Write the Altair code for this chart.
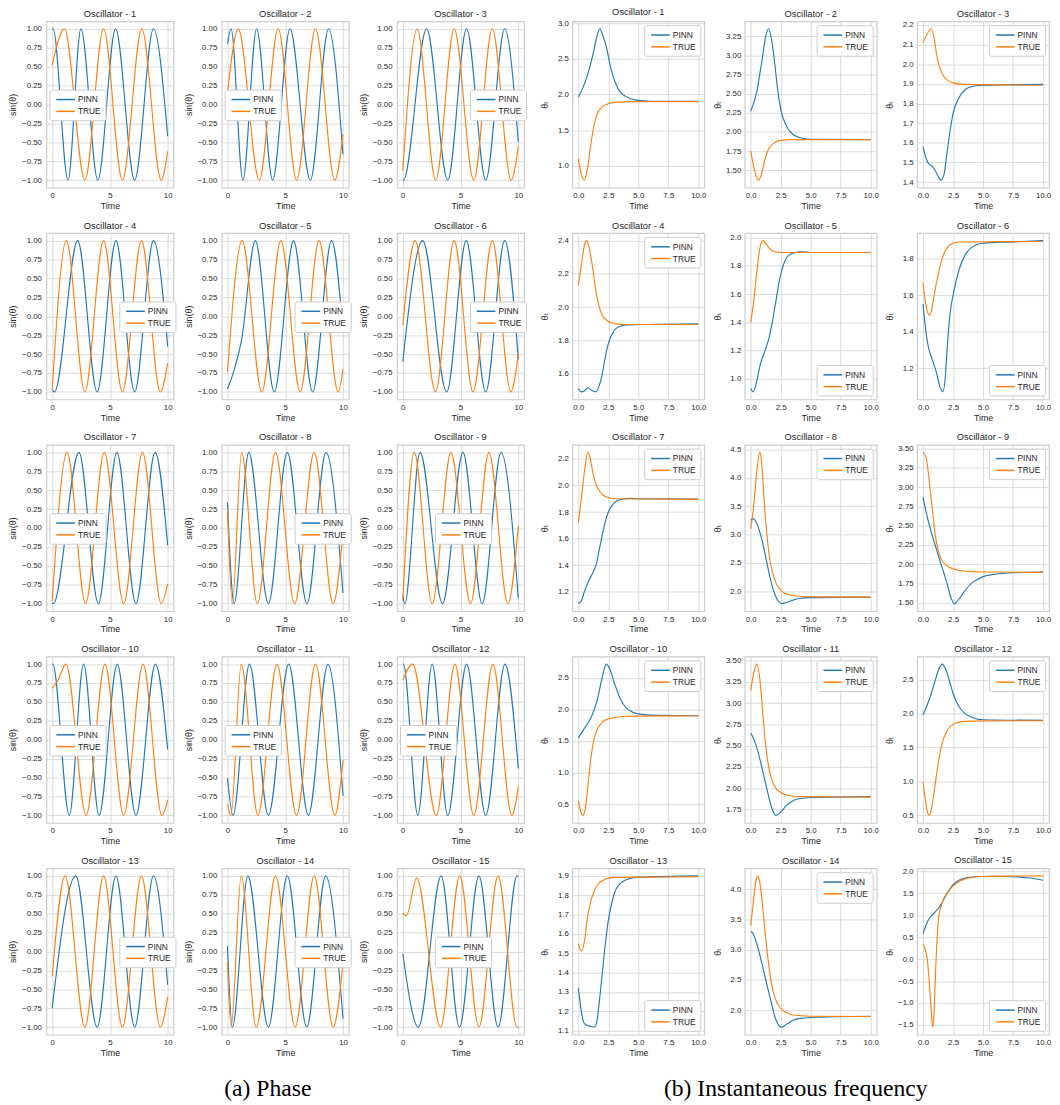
import altair as alt
import pandas as pd

# ---------------- Phase panels: (time, sin(theta)) key points ----------------
phase_pinn_1 = [(0, 0.99), (0.08, 1.0), (1.37, -1.0), (2.49, 1.0), (3.95, -1.0), (5.49, 1.0), (7.14, -1.0), (8.77, 1.0), (10, -0.42)]
phase_true_1 = [(0, 0.52), (1.06, 1.0), (2.83, -1.0), (4.45, 1.0), (6.08, -1.0), (7.76, 1.0), (9.44, -1.0), (10, -0.62)]
phase_pinn_2 = [(0, 0.8), (0.31, 1.0), (1.33, -1.0), (2.52, 1.0), (3.91, -1.0), (5.41, 1.0), (7.17, -1.0), (8.75, 1.0), (10, -0.66)]
phase_true_2 = [(0, 0.15), (0.93, 1.0), (2.75, -1.0), (4.39, 1.0), (5.98, -1.0), (7.62, 1.0), (9.29, -1.0), (10, -0.39)]
phase_pinn_3 = [(0, -0.995), (0.05, -1.0), (2.06, 1.0), (3.89, -1.0), (5.52, 1.0), (7.18, -1.0), (8.82, 1.0), (10, -0.5)]
phase_true_3 = [(0, -0.88), (1.24, 1.0), (2.85, -1.0), (4.45, 1.0), (6.14, -1.0), (7.75, 1.0), (9.38, -1.0), (10, -0.55)]
phase_pinn_4 = [(0, -0.98), (0.2, -1.0), (2.21, 1.0), (3.89, -1.0), (5.52, 1.0), (7.14, -1.0), (8.77, 1.0), (10, -0.4)]
phase_true_4 = [(0, -0.97), (1.23, 1.0), (2.83, -1.0), (4.45, 1.0), (6.08, -1.0), (7.73, 1.0), (9.36, -1.0), (10, -0.62)]
phase_pinn_5 = [(0, -0.96), (0.6, -0.7), (1.2, -0.33), (2.41, 1.0), (4.05, -1.0), (5.72, 1.0), (7.37, -1.0), (9.01, 1.0), (10, -0.19)]
phase_true_5 = [(0, -0.74), (1.27, 1.0), (2.97, -1.0), (4.62, 1.0), (6.29, -1.0), (7.93, 1.0), (9.58, -1.0), (10, -0.7)]
phase_pinn_6 = [(0, -0.6), (1.72, 1.0), (3.8, -1.0), (5.49, 1.0), (7.18, -1.0), (8.82, 1.0), (10, -0.57)]
phase_true_6 = [(0, -0.12), (1.07, 1.0), (2.82, -1.0), (4.45, 1.0), (6.08, -1.0), (7.75, 1.0), (9.35, -1.0), (10, -0.5)]
phase_pinn_7 = [(0, -0.995), (0.1, -1.0), (2.32, 1.0), (4.0, -1.0), (5.6, 1.0), (7.25, -1.0), (8.91, 1.0), (10, -0.23)]
phase_true_7 = [(0, -0.97), (1.29, 1.0), (2.89, -1.0), (4.51, 1.0), (6.19, -1.0), (7.82, 1.0), (9.44, -1.0), (10, -0.74)]
phase_pinn_8 = [(0, 0.34), (0.57, -1.0), (1.84, 1.0), (3.54, -1.0), (5.18, 1.0), (6.88, -1.0), (8.53, 1.0), (10, -0.86)]
phase_true_8 = [(0, 0.25), (0.42, -1.0), (1.22, 1.0), (2.58, -1.0), (4.16, 1.0), (5.81, -1.0), (7.51, 1.0), (9.15, -1.0), (10, -0.05)]
phase_pinn_9 = [(0, -0.89), (0.17, -1.0), (1.49, 1.0), (3.44, -1.0), (5.21, 1.0), (6.87, -1.0), (8.51, 1.0), (10, -0.93)]
phase_true_9 = [(0, -0.96), (0.99, 1.0), (2.54, -1.0), (4.17, 1.0), (5.86, -1.0), (7.46, 1.0), (9.1, -1.0), (10, 0.03)]
phase_pinn_10 = [(0, 0.995), (0.05, 1.0), (1.48, -1.0), (2.72, 1.0), (4.06, -1.0), (5.63, 1.0), (7.25, -1.0), (8.94, 1.0), (10, -0.13)]
phase_true_10 = [(0, 0.68), (0.45, 0.77), (1.2, 1.0), (2.94, -1.0), (4.57, 1.0), (6.19, -1.0), (7.87, 1.0), (9.5, -1.0), (10, -0.8)]
phase_pinn_11 = [(0, -0.51), (0.48, -1.0), (1.9, 1.0), (3.54, -1.0), (5.3, 1.0), (7.0, -1.0), (8.7, 1.0), (10, -0.74)]
phase_true_11 = [(0, -0.85), (0.3, -1.0), (1.19, 1.0), (2.63, -1.0), (4.28, 1.0), (5.98, -1.0), (7.62, 1.0), (9.29, -1.0), (10, -0.27)]
phase_pinn_12 = [(0, 0.995), (0.05, 1.0), (1.3, -1.0), (2.54, 1.0), (3.89, -1.0), (5.52, 1.0), (7.18, -1.0), (8.85, 1.0), (10, -0.38)]
phase_true_12 = [(0, 0.79), (0.85, 1.0), (2.9, -1.0), (4.51, 1.0), (6.14, -1.0), (7.8, 1.0), (9.44, -1.0), (10, -0.62)]
phase_pinn_13 = [(0, -0.75), (2.04, 1.0), (3.89, -1.0), (5.52, 1.0), (7.14, -1.0), (8.77, 1.0), (10, -0.44)]
phase_true_13 = [(0, -0.33), (1.12, 1.0), (2.83, -1.0), (4.45, 1.0), (6.08, -1.0), (7.73, 1.0), (9.36, -1.0), (10, -0.6)]
phase_pinn_14 = [(0, 0.07), (0.42, -1.0), (1.76, 1.0), (3.54, -1.0), (5.18, 1.0), (6.86, -1.0), (8.5, 1.0), (10, -0.89)]
phase_true_14 = [(0, -0.14), (0.31, -1.0), (1.19, 1.0), (2.49, -1.0), (4.16, 1.0), (5.86, -1.0), (7.51, 1.0), (9.15, -1.0), (10, -0.15)]
phase_pinn_15 = [(0, -0.03), (1.35, -1.0), (3.32, 1.0), (4.9, -1.0), (6.59, 1.0), (8.25, -1.0), (9.89, 1.0), (10, 0.995)]
phase_true_15 = [(0, 0.51), (0.3, 0.47), (1.2, 0.97), (3.27, -1.0), (4.93, 1.0), (6.59, -1.0), (8.25, 1.0), (9.89, -1.0), (10, -0.995)]

# ---------------- Instantaneous frequency panels: (time, theta_t) points ----------------
freq_pinn_1 = [(0, 1.96), (0.68, 2.23), (1.23, 2.57), (1.5, 2.78), (1.78, 2.92), (2.05, 2.82), (2.33, 2.67), (2.6, 2.45), (2.88, 2.26), (3.15, 2.14), (3.42, 2.05), (3.97, 1.97), (4.8, 1.92), (6, 1.905), (10, 1.905)]
freq_true_1 = [(0, 1.1), (0.25, 0.88), (0.5, 0.8), (0.75, 0.95), (1.0, 1.25), (1.25, 1.52), (1.5, 1.7), (2.0, 1.83), (2.5, 1.87), (3.0, 1.89), (5, 1.9), (10, 1.9)]
freq_pinn_2 = [(0, 2.27), (0.25, 2.38), (0.5, 2.52), (0.75, 2.75), (1.0, 3.0), (1.25, 3.25), (1.5, 3.35), (1.75, 3.2), (2.0, 2.9), (2.25, 2.55), (2.5, 2.3), (3.0, 2.07), (3.5, 1.97), (4.0, 1.93), (5, 1.905), (10, 1.9)]
freq_true_2 = [(0, 1.75), (0.25, 1.55), (0.5, 1.4), (0.65, 1.37), (0.9, 1.45), (1.2, 1.65), (1.5, 1.78), (2.0, 1.86), (2.5, 1.89), (3.5, 1.9), (10, 1.9)]
freq_pinn_3 = [(0, 1.58), (0.25, 1.52), (0.4, 1.5), (0.75, 1.48), (1.0, 1.46), (1.25, 1.43), (1.5, 1.41), (1.75, 1.44), (2.0, 1.55), (2.25, 1.66), (2.5, 1.75), (3.0, 1.83), (3.5, 1.87), (4.0, 1.885), (5, 1.893), (10, 1.897)]
freq_true_3 = [(0, 2.11), (0.3, 2.15), (0.68, 2.18), (0.9, 2.14), (1.1, 2.06), (1.3, 2.0), (1.6, 1.95), (2.0, 1.92), (2.5, 1.905), (3.5, 1.897), (10, 1.893)]
freq_pinn_4 = [(0, 1.51), (0.25, 1.49), (0.5, 1.495), (0.8, 1.515), (1.1, 1.5), (1.45, 1.49), (1.7, 1.52), (2.0, 1.6), (2.25, 1.7), (2.5, 1.78), (3.0, 1.86), (3.5, 1.885), (4.0, 1.893), (5, 1.895), (10, 1.9)]
freq_true_4 = [(0, 2.13), (0.25, 2.25), (0.5, 2.37), (0.7, 2.4), (0.9, 2.36), (1.1, 2.28), (1.3, 2.18), (1.5, 2.08), (1.75, 2.0), (2.0, 1.95), (2.5, 1.915), (3.0, 1.9), (4, 1.895), (10, 1.895)]
freq_pinn_5 = [(0, 0.93), (0.2, 0.905), (0.5, 0.98), (0.8, 1.1), (1.2, 1.2), (1.5, 1.28), (1.8, 1.4), (2.1, 1.55), (2.4, 1.7), (2.7, 1.8), (3.0, 1.86), (3.5, 1.89), (4.25, 1.9), (5, 1.895), (10, 1.895)]
freq_true_5 = [(0, 1.4), (0.25, 1.55), (0.5, 1.75), (0.75, 1.92), (1.0, 1.98), (1.25, 1.96), (1.5, 1.93), (2.0, 1.9), (2.5, 1.895), (10, 1.895)]
freq_pinn_6 = [(0, 1.55), (0.2, 1.42), (0.4, 1.33), (0.75, 1.25), (1.1, 1.18), (1.4, 1.1), (1.65, 1.07), (1.85, 1.15), (2.0, 1.3), (2.25, 1.5), (2.5, 1.6), (3.0, 1.74), (3.5, 1.82), (4.0, 1.86), (5, 1.885), (7.5, 1.893), (10, 1.9)]
freq_true_6 = [(0, 1.67), (0.2, 1.56), (0.55, 1.49), (0.8, 1.55), (1.0, 1.63), (1.25, 1.71), (1.5, 1.78), (1.75, 1.83), (2.0, 1.86), (2.5, 1.885), (3.0, 1.892), (10, 1.895)]
freq_pinn_7 = [(0, 1.11), (0.25, 1.13), (0.5, 1.2), (0.9, 1.29), (1.25, 1.35), (1.5, 1.41), (1.75, 1.52), (2.0, 1.63), (2.25, 1.73), (2.5, 1.8), (3.0, 1.87), (3.5, 1.895), (4.25, 1.903), (5, 1.9), (10, 1.897)]
freq_true_7 = [(0, 1.72), (0.25, 1.9), (0.5, 2.1), (0.8, 2.25), (1.0, 2.2), (1.25, 2.08), (1.5, 2.0), (1.75, 1.96), (2.0, 1.93), (2.5, 1.91), (3.0, 1.9), (10, 1.895)]
freq_pinn_8 = [(0, 3.25), (0.2, 3.28), (0.5, 3.2), (0.75, 3.05), (1.0, 2.85), (1.25, 2.6), (1.5, 2.35), (1.75, 2.12), (2.0, 1.95), (2.25, 1.84), (2.6, 1.78), (3.0, 1.8), (3.5, 1.84), (4.0, 1.87), (5, 1.885), (10, 1.895)]
freq_true_8 = [(0, 3.1), (0.25, 3.5), (0.5, 4.1), (0.75, 4.45), (0.9, 4.3), (1.0, 4.0), (1.15, 3.5), (1.35, 3.0), (1.6, 2.55), (2.0, 2.2), (2.5, 2.02), (3.0, 1.95), (4.0, 1.91), (5, 1.9), (10, 1.895)]
freq_pinn_9 = [(0, 2.87), (0.25, 2.68), (0.5, 2.52), (0.75, 2.38), (1.0, 2.25), (1.5, 2.0), (2.0, 1.75), (2.3, 1.58), (2.6, 1.49), (3.0, 1.55), (3.5, 1.66), (4.0, 1.75), (4.5, 1.8), (5.0, 1.84), (6.0, 1.87), (7.5, 1.89), (10, 1.9)]
freq_true_9 = [(0, 3.45), (0.15, 3.42), (0.3, 3.35), (0.5, 3.1), (0.75, 2.75), (1.0, 2.4), (1.25, 2.18), (1.5, 2.07), (2.0, 1.98), (2.5, 1.94), (3.0, 1.92), (4.0, 1.905), (5, 1.9), (10, 1.895)]
freq_pinn_10 = [(0, 1.55), (0.5, 1.7), (1.0, 1.85), (1.5, 2.1), (1.75, 2.3), (2.0, 2.52), (2.33, 2.72), (2.6, 2.65), (3.0, 2.42), (3.5, 2.17), (4.0, 2.02), (4.5, 1.96), (5, 1.93), (6, 1.91), (10, 1.9)]
freq_true_10 = [(0, 0.55), (0.2, 0.38), (0.4, 0.32), (0.6, 0.45), (0.8, 0.8), (1.0, 1.15), (1.25, 1.48), (1.5, 1.65), (2.0, 1.8), (2.5, 1.85), (3.0, 1.875), (4.0, 1.89), (5, 1.895), (10, 1.9)]
freq_pinn_11 = [(0, 2.65), (0.25, 2.58), (0.5, 2.48), (0.75, 2.35), (1.0, 2.2), (1.25, 2.05), (1.5, 1.9), (1.75, 1.77), (2.1, 1.68), (2.5, 1.72), (3.0, 1.8), (3.5, 1.85), (4.0, 1.875), (5, 1.89), (10, 1.9)]
freq_true_11 = [(0, 3.15), (0.25, 3.35), (0.5, 3.46), (0.75, 3.3), (1.0, 2.9), (1.25, 2.5), (1.5, 2.25), (1.75, 2.1), (2.0, 2.02), (2.5, 1.95), (3.0, 1.92), (4.0, 1.9), (10, 1.895)]
freq_pinn_12 = [(0, 1.98), (0.5, 2.2), (1.0, 2.48), (1.3, 2.65), (1.6, 2.73), (1.9, 2.65), (2.25, 2.45), (2.5, 2.3), (3.0, 2.1), (3.5, 2.0), (4.0, 1.95), (5, 1.91), (10, 1.9)]
freq_true_12 = [(0, 1.0), (0.2, 0.72), (0.4, 0.53), (0.55, 0.5), (0.75, 0.65), (1.0, 0.95), (1.25, 1.25), (1.5, 1.5), (2.0, 1.75), (2.5, 1.84), (3.0, 1.875), (4, 1.89), (10, 1.895)]
freq_pinn_13 = [(0, 1.32), (0.2, 1.22), (0.4, 1.15), (0.6, 1.13), (1.0, 1.122), (1.35, 1.118), (1.55, 1.15), (1.75, 1.25), (2.0, 1.4), (2.25, 1.55), (2.5, 1.67), (2.75, 1.75), (3.0, 1.81), (3.5, 1.86), (4.0, 1.88), (5, 1.893), (10, 1.9)]
freq_true_13 = [(0, 1.55), (0.15, 1.52), (0.3, 1.512), (0.5, 1.56), (0.75, 1.68), (1.0, 1.76), (1.25, 1.81), (1.5, 1.845), (2.0, 1.875), (2.5, 1.887), (3.0, 1.892), (10, 1.895)]
freq_pinn_14 = [(0, 3.3), (0.15, 3.28), (0.5, 3.1), (0.75, 2.92), (1.0, 2.72), (1.25, 2.5), (1.5, 2.3), (1.75, 2.1), (2.0, 1.9), (2.25, 1.78), (2.55, 1.72), (3.0, 1.77), (3.5, 1.83), (4.0, 1.86), (5, 1.88), (10, 1.9)]
freq_true_14 = [(0, 3.4), (0.2, 3.75), (0.4, 4.1), (0.6, 4.22), (0.75, 4.12), (0.9, 3.9), (1.1, 3.5), (1.3, 3.1), (1.5, 2.75), (1.75, 2.42), (2.0, 2.22), (2.5, 2.03), (3.0, 1.96), (3.5, 1.92), (5, 1.9), (10, 1.895)]
freq_pinn_15 = [(0, 0.58), (0.25, 0.78), (0.5, 0.92), (0.75, 1.0), (1.0, 1.07), (1.25, 1.15), (1.5, 1.25), (1.75, 1.38), (2.0, 1.5), (2.5, 1.7), (3.0, 1.8), (3.5, 1.85), (4.0, 1.87), (5, 1.885), (6, 1.89), (7.5, 1.88), (8.5, 1.86), (9.25, 1.84), (10, 1.8)]
freq_true_15 = [(0, 0.35), (0.2, 0.2), (0.35, 0.0), (0.5, -0.45), (0.65, -1.05), (0.8, -1.55), (0.9, -1.3), (1.0, -0.6), (1.1, 0.1), (1.2, 0.6), (1.3, 0.95), (1.5, 1.2), (1.75, 1.4), (2.0, 1.5), (2.5, 1.67), (3.0, 1.77), (3.5, 1.83), (4.0, 1.86), (5, 1.885), (7.5, 1.895), (10, 1.9)]

# ---------------- Tick labels ----------------
x_phase_ticks = [0, 5, 10]
x_freq_ticks = [0, 2.5, 5, 7.5, 10]
y_phase_ticks = [-1.0, -0.75, -0.5, -0.25, 0.0, 0.25, 0.5, 0.75, 1.0]
freq_ticks_1 = [1.0, 1.5, 2.0, 2.5, 3.0]
freq_ticks_2 = [1.5, 1.75, 2.0, 2.25, 2.5, 2.75, 3.0, 3.25]
freq_ticks_3 = [1.4, 1.5, 1.6, 1.7, 1.8, 1.9, 2.0, 2.1, 2.2]
freq_ticks_4 = [1.6, 1.8, 2.0, 2.2, 2.4]
freq_ticks_5 = [1.0, 1.2, 1.4, 1.6, 1.8, 2.0]
freq_ticks_6 = [1.2, 1.4, 1.6, 1.8]
freq_ticks_7 = [1.2, 1.4, 1.6, 1.8, 2.0, 2.2]
freq_ticks_8 = [2.0, 2.5, 3.0, 3.5, 4.0, 4.5]
freq_ticks_9 = [1.5, 1.75, 2.0, 2.25, 2.5, 2.75, 3.0, 3.25, 3.5]
freq_ticks_10 = [0.5, 1.0, 1.5, 2.0, 2.5]
freq_ticks_11 = [1.75, 2.0, 2.25, 2.5, 2.75, 3.0, 3.25, 3.5]
freq_ticks_12 = [0.5, 1.0, 1.5, 2.0, 2.5]
freq_ticks_13 = [1.1, 1.2, 1.3, 1.4, 1.5, 1.6, 1.7, 1.8, 1.9]
freq_ticks_14 = [2.0, 2.5, 3.0, 3.5, 4.0]
freq_ticks_15 = [-1.5, -1.0, -0.5, 0.0, 0.5, 1.0, 1.5, 2.0]
freq_formats = [".1f", ".2f", ".1f", ".1f", ".1f", ".1f", ".1f", ".1f", ".2f", ".1f", ".2f", ".1f", ".1f", ".1f", ".1f"]

series_names = ["PINN", "TRUE"]
series_colors = ["#1f77b4", "#ff7f0e"]

# legend placement (layout, not data)
phase_legend_pos = ["left", "left", "right", "right", "right", "right", "left", "right", "center",
                    "left", "left", "left", "right", "right", "center"]
freq_legend_pos = ["top-right", "top-right", "top-right", "top-right", "bottom-right", "bottom-right",
                   "top-right", "top-right", "top-right", "top-right", "top-right", "top-right",
                   "bottom-right", "top-right", "bottom-right"]

g = globals()
phase_data = [(g[f"phase_pinn_{i}"], g[f"phase_true_{i}"]) for i in range(1, 16)]
freq_data = [(g[f"freq_pinn_{i}"], g[f"freq_true_{i}"]) for i in range(1, 16)]
freq_ticks = [g[f"freq_ticks_{i}"] for i in range(1, 16)]

FONT = "Liberation Sans, Arial, DejaVu Sans"
TEXT = "#262626"
GRID = "#d6d6d6"
PW, PH = 129, 169   # phase panel plot area
FW, FH = 134, 169   # frequency panel plot area
LEG_W, LEG_H = 52, 30


def to_frame(pinn, true):
    return pd.DataFrame({
        "t": [p[0] for p in pinn] + [p[0] for p in true],
        "v": [p[1] for p in pinn] + [p[1] for p in true],
        "s": ["PINN"] * len(pinn) + ["TRUE"] * len(true),
    })


LEGEND_COMMON = dict(
    title=None, labelFont=FONT, labelFontSize=8.5, labelColor=TEXT,
    symbolType="M-0.6,0H3.2", symbolSize=100, symbolStrokeWidth=1.5,
    labelOffset=13, padding=4, rowPadding=1,
    fillColor="white", strokeColor="#cccccc", cornerRadius=2,
)


def make_panel(df, idx, kind, legend, ydom, yticks, yfmt):
    if kind == "phase":
        xt, xf, w, h, ytitle, ext, lp = x_phase_ticks, "d", PW, PH, "sin(θ)", 26, 5
    else:
        xt, xf, w, h, ytitle, ext, lp = x_freq_ticks, ".1f", FW, FH, "θₜ", 20, 4
    x_axis = alt.Axis(values=xt, format=xf, title="Time", labelPadding=4, titlePadding=2,
                      labelFlush=False, labelOverlap=False)
    y_axis = alt.Axis(values=yticks, format=yfmt, title=ytitle, labelPadding=lp, titlePadding=3,
                      minExtent=ext, maxExtent=ext, labelOverlap=False)
    return alt.Chart(df).mark_line(interpolate="monotone", strokeWidth=1.15, clip=True).encode(
        x=alt.X("t:Q", scale=alt.Scale(domain=[-0.5, 10.5], nice=False, zero=False), axis=x_axis),
        y=alt.Y("v:Q", scale=alt.Scale(domain=ydom, nice=False, zero=False), axis=y_axis),
        color=alt.Color("s:N", scale=alt.Scale(domain=series_names, range=series_colors), legend=legend),
    ).properties(width=w, height=h, title=f"Oscillator - {idx}")


phase_panels = []
for i, (pinn, true) in enumerate(phase_data):
    pos = phase_legend_pos[i]
    lx = {"left": 3, "right": PW - 3 - LEG_W, "center": (PW - LEG_W) / 2}[pos]
    legend = alt.Legend(orient="none", legendX=lx, legendY=(PH - LEG_H) / 2, **LEGEND_COMMON)
    phase_panels.append(make_panel(to_frame(pinn, true), i + 1, "phase", legend,
                                   [-1.1, 1.1], y_phase_ticks, ".2f"))

freq_panels = []
for i, (pinn, true) in enumerate(freq_data):
    vals = [p[1] for p in pinn] + [p[1] for p in true]
    lo, hi = min(vals), max(vals)
    pad = (hi - lo) * 0.05
    legend = alt.Legend(orient=freq_legend_pos[i], offset=4, **LEGEND_COMMON)
    freq_panels.append(make_panel(to_frame(pinn, true), i + 1, "freq", legend,
                                  [lo - pad, hi + pad], freq_ticks[i], freq_formats[i]))

caption = dict(orient="bottom", anchor="middle", fontSize=24, font="Liberation Serif",
               fontWeight="normal", color="black", offset=20)

left = alt.concat(*phase_panels, columns=3, spacing={"row": 8, "column": 6}).properties(
    title=alt.TitleParams("(a) Phase", **caption)).resolve_legend(color="independent")
right = alt.concat(*freq_panels, columns=3, spacing={"row": 8, "column": 5}).properties(
    title=alt.TitleParams("(b) Instantaneous frequency", **caption)).resolve_legend(color="independent")

chart = alt.hconcat(left, right, spacing=12).resolve_legend(color="independent").properties(
    padding={"top": -11, "left": 0, "right": 0, "bottom": 0}, background="white"
).configure_view(stroke="#cccccc", strokeWidth=1.2).configure_axis(
    grid=True, gridColor=GRID, gridWidth=0.9, ticks=False, domain=False,
    labelFont=FONT, labelFontSize=8, labelColor=TEXT,
    titleFont=FONT, titleFontSize=9, titleColor=TEXT, titleFontWeight="normal",
).configure_title(font=FONT, fontSize=9.5, fontWeight="normal", color=TEXT, offset=3)

chart.save("out.html", embed_options={"renderer": "svg", "actions": False})
